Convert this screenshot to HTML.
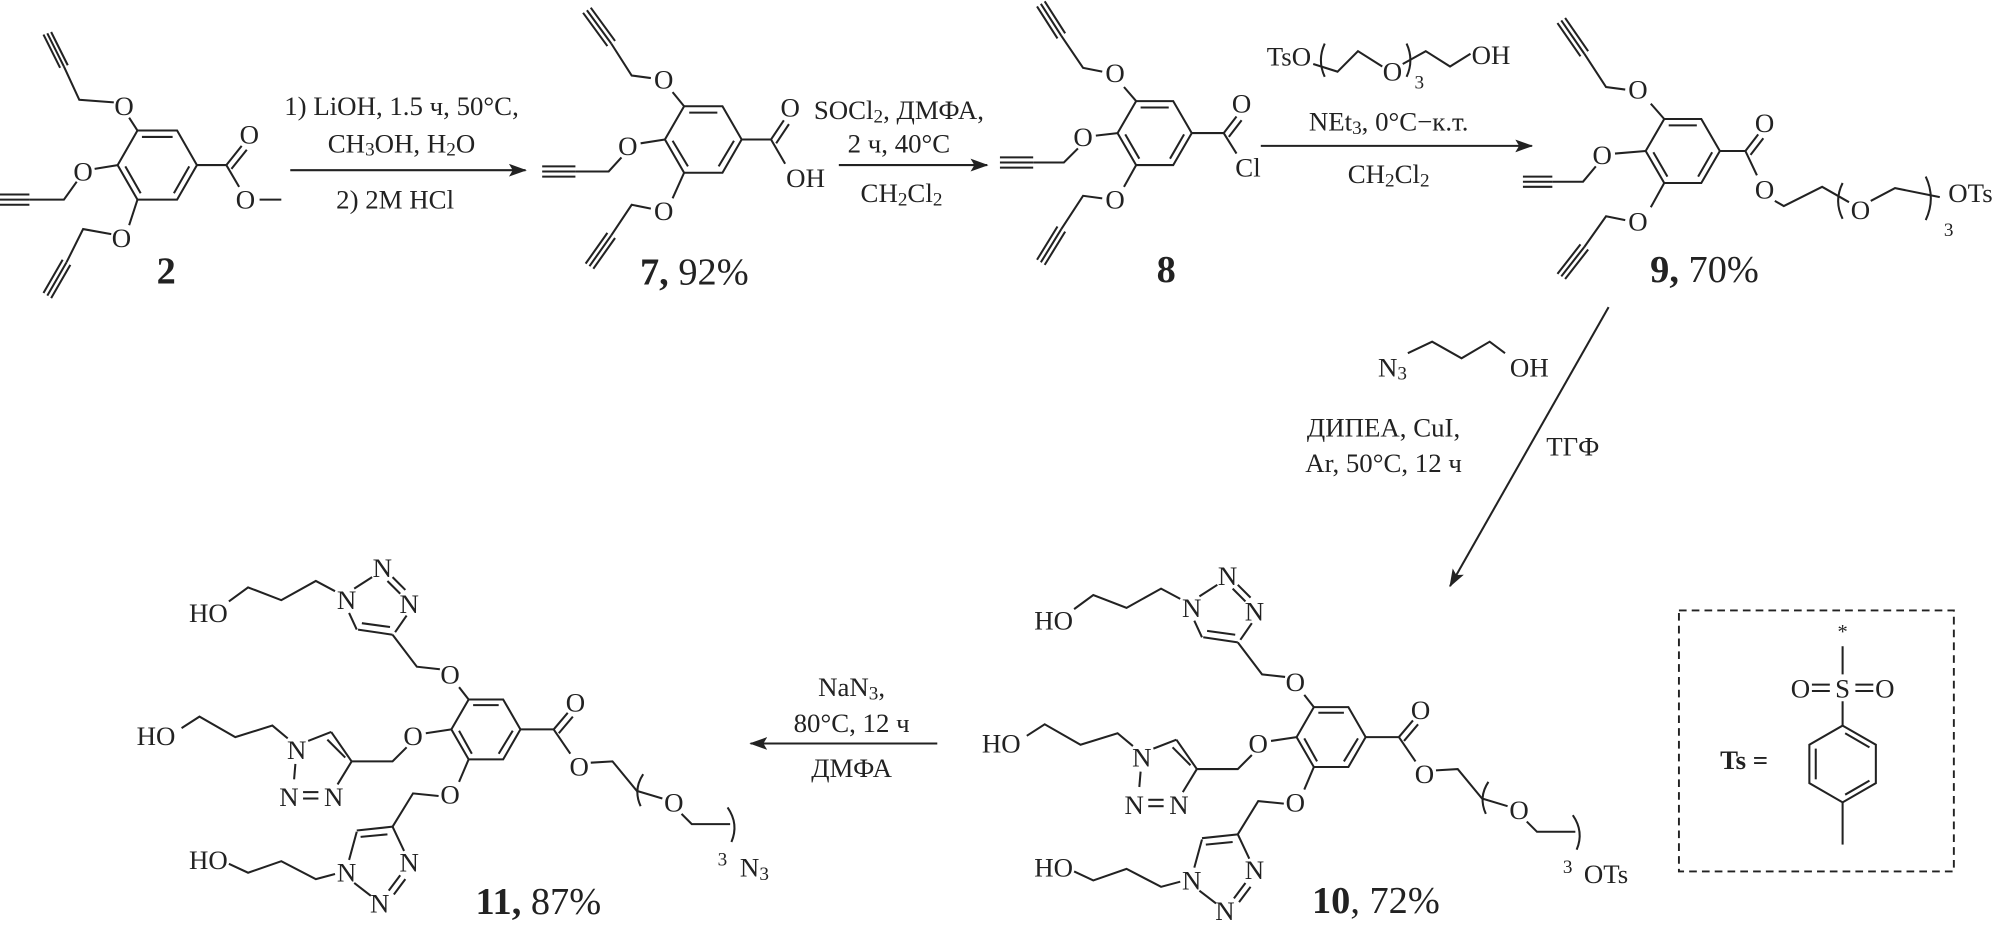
<!DOCTYPE html>
<html><head><meta charset="utf-8"><style>
html,body{margin:0;padding:0;background:#fff}
svg{display:block}
text{font-family:"Liberation Serif",serif;font-size:21px;fill:#222;text-anchor:middle;dominant-baseline:central}
.b{font-weight:bold}
line,path,polyline{stroke:#222;stroke-width:1.6;fill:none}
</style></head><body>
<svg width="2005" height="938" viewBox="0 0 1568 733" preserveAspectRatio="none">
<defs><marker id="ah" markerWidth="14" markerHeight="10" refX="13" refY="5" orient="auto" markerUnits="userSpaceOnUse"><path d="M0,0 L14,5 L0,10 L3,5 Z" style="fill:#222;stroke:none"/></marker></defs>

<!-- Compound 2 -->
<polygon points="154,129 138.5,102 107.5,102 92,129 107.5,156 138.5,156" style="fill:none;stroke:#222;stroke-width:1.6"/>
<line x1="111" y1="107" x2="135" y2="107"/><line x1="98" y1="130" x2="110" y2="151"/><line x1="136" y1="151" x2="148" y2="130"/>
<text x="97" y="83">O</text><line x1="107.5" y1="102" x2="101" y2="92"/>
<polyline points="89,80 62,78 50,52"/>
<line x1="50" y1="52" x2="37" y2="26"/><line x1="53" y1="51" x2="40" y2="25"/><line x1="47" y1="53" x2="34" y2="27"/>
<text x="65" y="134">O</text><line x1="92" y1="129" x2="74" y2="132"/>
<polyline points="60,142 50,156 23,156"/>
<line x1="0" y1="156" x2="23" y2="156"/><line x1="0" y1="152" x2="23" y2="152"/><line x1="0" y1="160" x2="23" y2="160"/>
<text x="95" y="186">O</text><line x1="107.5" y1="156" x2="101" y2="176"/>
<polyline points="87,183 65,179 52,205"/>
<line x1="52" y1="205" x2="37" y2="231"/><line x1="55" y1="207" x2="40" y2="233"/><line x1="49" y1="203" x2="34" y2="229"/>
<line x1="154" y1="129" x2="177" y2="129"/><line x1="177" y1="129" x2="189" y2="114"/><line x1="181" y1="132" x2="193" y2="117"/>
<text x="195" y="105">O</text><line x1="177" y1="129" x2="187" y2="146"/><text x="192" y="156">O</text><line x1="203" y1="156" x2="220" y2="156"/>
<text x="130" y="212" class="b" style="font-size:30px">2</text>

<!-- Arrow 1 -->
<text x="314" y="83">1) LiOH, 1.5 ч, 50°C,</text>
<text x="314" y="112">CH<tspan dy="5" font-size="15">3</tspan><tspan dy="-5">OH, H</tspan><tspan dy="5" font-size="15">2</tspan><tspan dy="-5">O</tspan></text>
<line x1="227" y1="133" x2="411" y2="133" marker-end="url(#ah)"/>
<text x="309" y="156">2) 2M HCl</text>

<!-- Compound 7 -->
<polygon points="580,109 565,83 535,83 520,109 535,135 565,135" style="fill:none;stroke:#222;stroke-width:1.6"/>
<line x1="539" y1="88" x2="561" y2="88"/><line x1="526" y1="110" x2="538" y2="130"/><line x1="562" y1="130" x2="574" y2="110"/>
<text x="519" y="62">O</text><line x1="535" y1="83" x2="526" y2="72"/>
<polyline points="509,61 494,59 478,34"/>
<line x1="478" y1="34" x2="459" y2="8"/><line x1="481" y1="32" x2="462" y2="6"/><line x1="475" y1="36" x2="456" y2="10"/>
<text x="491" y="114">O</text><line x1="520" y1="109" x2="501" y2="112"/>
<polyline points="486,123 476,134 450,134"/>
<line x1="450" y1="134" x2="424" y2="134"/><line x1="450" y1="130" x2="424" y2="130"/><line x1="450" y1="138" x2="424" y2="138"/>
<text x="519" y="165">O</text><line x1="535" y1="135" x2="526" y2="155"/>
<polyline points="509,163 494,160 478,184"/>
<line x1="478" y1="184" x2="461" y2="208"/><line x1="481" y1="186" x2="464" y2="210"/><line x1="475" y1="182" x2="458" y2="206"/>
<line x1="580" y1="109" x2="603" y2="109"/><line x1="603" y1="109" x2="613" y2="94"/><line x1="607" y1="112" x2="617" y2="97"/>
<text x="618" y="84">O</text><line x1="603" y1="109" x2="614" y2="128"/><text x="630" y="139">OH</text>
<text x="543" y="213" style="font-size:30px"><tspan class="b">7,</tspan> 92%</text>

<!-- Arrow 2 -->
<text x="703" y="86">SOCl<tspan dy="5" font-size="15">2</tspan><tspan dy="-5">, ДМФА,</tspan></text>
<text x="703" y="112">2 ч, 40°C</text>
<line x1="656" y1="129" x2="772" y2="129" marker-end="url(#ah)"/>
<text x="705" y="151">CH<tspan dy="5" font-size="15">2</tspan><tspan dy="-5">Cl</tspan><tspan dy="5" font-size="15">2</tspan></text>

<!-- Compound 8 -->
<polygon points="932,104 917.5,79 888.5,79 874,104 888.5,129 917.5,129" style="fill:none;stroke:#222;stroke-width:1.6"/>
<line x1="892" y1="84" x2="914" y2="84"/><line x1="880" y1="105" x2="891" y2="124"/><line x1="915" y1="124" x2="926" y2="105"/>
<text x="872" y="57">O</text><line x1="888.5" y1="79" x2="879" y2="68"/>
<polyline points="862,56 847,53 830,28"/>
<line x1="830" y1="28" x2="814" y2="3"/><line x1="833" y1="26" x2="817" y2="1"/><line x1="827" y1="30" x2="811" y2="5"/>
<text x="847" y="107">O</text><line x1="874" y1="104" x2="857" y2="106"/>
<polyline points="843,116 832,127 808,127"/>
<line x1="808" y1="127" x2="782" y2="127"/><line x1="808" y1="123" x2="782" y2="123"/><line x1="808" y1="131" x2="782" y2="131"/>
<text x="872" y="156">O</text><line x1="888.5" y1="129" x2="879" y2="146"/>
<polyline points="862,155 847,153 830,179"/>
<line x1="830" y1="179" x2="814" y2="205"/><line x1="833" y1="181" x2="817" y2="207"/><line x1="827" y1="177" x2="811" y2="203"/>
<line x1="932" y1="104" x2="957" y2="104"/><line x1="957" y1="104" x2="967" y2="91"/><line x1="961" y1="107" x2="971" y2="94"/>
<text x="971" y="81">O</text><line x1="957" y1="104" x2="967" y2="120"/><text x="976" y="131">Cl</text>
<text x="912" y="211" class="b" style="font-size:30px">8</text>

<!-- Arrow 3 -->
<text x="1008" y="44">TsO</text>
<path d="M1036,34 Q1030,47 1036,60"/>
<polyline points="1027,50 1046,56 1062,40 1081,52"/>
<text x="1089" y="56">O</text>
<path d="M1100,34 Q1106,47 1100,60"/>
<text x="1110" y="65" style="font-size:15px">3</text>
<polyline points="1097,50 1115,40 1134,52 1150,42"/>
<text x="1166" y="43">OH</text>
<text x="1086" y="95">NEt<tspan dy="5" font-size="15">3</tspan><tspan dy="-5">, 0°C−к.т.</tspan></text>
<line x1="986" y1="114" x2="1198" y2="114" marker-end="url(#ah)"/>
<text x="1086" y="136">CH<tspan dy="5" font-size="15">2</tspan><tspan dy="-5">Cl</tspan><tspan dy="5" font-size="15">2</tspan></text>

<!-- Compound 9 -->
<polygon points="1345,118 1330.5,93 1301.5,93 1287,118 1301.5,143 1330.5,143" style="fill:none;stroke:#222;stroke-width:1.6"/>
<line x1="1305" y1="98" x2="1327" y2="98"/><line x1="1293" y1="119" x2="1304" y2="138"/><line x1="1328" y1="138" x2="1339" y2="119"/>
<text x="1281" y="70">O</text><line x1="1301.5" y1="93" x2="1291" y2="81"/>
<polyline points="1271,70 1256,68 1239,42"/>
<line x1="1239" y1="42" x2="1221" y2="16"/><line x1="1242" y1="40" x2="1224" y2="14"/><line x1="1236" y1="44" x2="1218" y2="18"/>
<text x="1253" y="121">O</text><line x1="1287" y1="118" x2="1263" y2="120"/>
<polyline points="1248,130 1238,142 1214,142"/>
<line x1="1214" y1="142" x2="1191" y2="142"/><line x1="1214" y1="138" x2="1191" y2="138"/><line x1="1214" y1="146" x2="1191" y2="146"/>
<text x="1281" y="173">O</text><line x1="1301.5" y1="143" x2="1291" y2="162"/>
<polyline points="1271,172 1256,169 1239,193"/>
<line x1="1239" y1="193" x2="1221" y2="216"/><line x1="1242" y1="195" x2="1224" y2="218"/><line x1="1236" y1="191" x2="1218" y2="214"/>
<line x1="1345" y1="118" x2="1365" y2="118"/><line x1="1365" y1="118" x2="1375" y2="105"/><line x1="1369" y1="121" x2="1379" y2="108"/>
<text x="1380" y="96">O</text><line x1="1365" y1="118" x2="1374" y2="137"/><text x="1380" y="148">O</text>
<polyline points="1388,157 1395,161 1425,146 1446,158"/>
<path d="M1441,143 Q1434,157 1441,171"/>
<text x="1455" y="164">O</text>
<polyline points="1463,157 1482,147 1517,154"/>
<path d="M1506,138 Q1514,155 1506,172"/>
<text x="1541" y="151">OTs</text>
<text x="1524" y="180" style="font-size:15px">3</text>
<text x="1333" y="211" style="font-size:30px"><tspan class="b">9,</tspan> 70%</text>

<!-- Diagonal arrow -->
<line x1="1258" y1="240" x2="1134" y2="458" marker-end="url(#ah)"/>
<text x="1089" y="287">N<tspan dy="5" font-size="15">3</tspan></text>
<polyline points="1101,276 1120,267 1143,280 1165,267 1177,276"/>
<text x="1196" y="287">OH</text>
<text x="1082" y="334">ДИПЕА, CuI,</text>
<text x="1082" y="362">Ar, 50°C, 12 ч</text>
<text x="1230" y="349">ТГФ</text>

<!-- Compound 11 and 10 -->
<g id="core">
<polygon points="407,570 393.5,546.6 366.5,546.6 353,570 366.5,593.4 393.5,593.4" style="fill:none;stroke:#222;stroke-width:1.6"/>
<line x1="370" y1="551" x2="390" y2="551"/><line x1="359" y1="571" x2="369" y2="589"/><line x1="390" y1="589" x2="401" y2="571"/>
<!-- top -->
<text x="352" y="527">O</text><line x1="366.5" y1="546.6" x2="359" y2="537"/>
<polyline points="344,523 326,521 307,496"/>
<line x1="307" y1="496" x2="280" y2="492"/><line x1="305" y1="490" x2="283" y2="487"/>
<line x1="279" y1="492" x2="273" y2="479"/>
<line x1="277" y1="460" x2="291" y2="451"/>
<line x1="303" y1="454" x2="313" y2="464"/><line x1="307" y1="451" x2="317" y2="461"/>
<line x1="318" y1="481" x2="309" y2="494"/>
<text x="271" y="469">N</text><text x="299" y="444">N</text><text x="320" y="472">N</text>
<polyline points="262,462 247,454 220,469 194,459 179,470"/>
<text x="163" y="479">HO</text>
<!-- middle -->
<text x="323" y="575">O</text><line x1="353" y1="570" x2="333" y2="573"/>
<polyline points="318,584 307,595 275,595"/>
<line x1="275" y1="595" x2="259" y2="572"/><line x1="270" y1="592" x2="256" y2="578"/>
<line x1="259" y1="572" x2="241" y2="579"/>
<line x1="275" y1="595" x2="264" y2="613"/>
<line x1="231" y1="597" x2="230" y2="609"/>
<line x1="237" y1="619" x2="249" y2="619"/><line x1="237" y1="624" x2="249" y2="624"/>
<text x="232" y="586">N</text><text x="226" y="623">N</text><text x="261" y="623">N</text>
<polyline points="225,577 213,567 184,576 156,560 142,569"/>
<text x="122" y="575">HO</text>
<!-- bottom -->
<text x="352" y="621">O</text><line x1="366.5" y1="593.4" x2="359" y2="611"/>
<polyline points="343,622 323,620 307,646"/>
<line x1="307" y1="646" x2="279" y2="649"/><line x1="303" y1="652" x2="282" y2="654"/>
<line x1="279" y1="650" x2="273" y2="672"/>
<line x1="307" y1="646" x2="316" y2="665"/>
<line x1="277" y1="690" x2="290" y2="700"/>
<line x1="313" y1="684" x2="304" y2="696"/><line x1="317" y1="687" x2="308" y2="699"/>
<text x="271" y="682">N</text><text x="320" y="674">N</text><text x="297" y="706">N</text>
<polyline points="262,683 247,687 220,673 194,682 179,675"/>
<text x="163" y="672">HO</text>
<!-- ester -->
<line x1="407" y1="570" x2="433" y2="570"/><line x1="433" y1="570" x2="444" y2="557"/><line x1="437" y1="573" x2="448" y2="560"/>
<text x="450" y="549">O</text><line x1="433" y1="570" x2="446" y2="589"/><text x="453" y="599">O</text>
<polyline points="462,596 479,595 498,618 518,624"/>
<path d="M503,605 Q495,617 501,630"/>
<text x="527" y="627">O</text>
<polyline points="533,636 541,644 571,644"/>
<path d="M569,631 Q578,644 572,658"/>
</g>
<text x="565" y="672" style="font-size:15px">3</text>
<text x="590" y="678">N<tspan dy="5" font-size="15">3</tspan></text>
<text x="421" y="705" style="font-size:30px"><tspan class="b">11,</tspan> 87%</text>

<use href="#core" transform="translate(661,6)"/>
<text x="1226" y="678" style="font-size:15px">3</text>
<text x="1256" y="683">OTs</text>
<text x="1076" y="704" style="font-size:30px"><tspan class="b">10</tspan>, 72%</text>

<!-- Arrow 4 -->
<text x="666" y="537">NaN<tspan dy="5" font-size="15">3</tspan><tspan dy="-5">,</tspan></text>
<text x="666" y="565">80°C, 12 ч</text>
<line x1="733" y1="581" x2="587" y2="581" marker-end="url(#ah)"/>
<text x="666" y="600">ДМФА</text>

<!-- Ts box -->
<rect x="1313" y="477" width="215" height="204" style="fill:none;stroke:#222;stroke-width:1.5;stroke-dasharray:6,4"/>
<text x="1364" y="594" class="b">Ts =</text>
<polygon points="1441,567 1467,582 1467,612 1441,627 1415,612 1415,582" style="fill:none;stroke:#222;stroke-width:1.6"/>
<line x1="1420" y1="585" x2="1420" y2="609"/><line x1="1443" y1="573" x2="1462" y2="584"/><line x1="1462" y1="610" x2="1443" y2="621"/>
<line x1="1441" y1="548" x2="1441" y2="567"/>
<line x1="1441" y1="505" x2="1441" y2="527"/>
<text x="1441" y="494" style="font-size:16px">*</text>
<text x="1441" y="538">S</text><text x="1408" y="538">O</text><text x="1474" y="538">O</text>
<line x1="1417" y1="535" x2="1431" y2="535"/><line x1="1417" y1="540" x2="1431" y2="540"/>
<line x1="1451" y1="535" x2="1465" y2="535"/><line x1="1451" y1="540" x2="1465" y2="540"/>
<line x1="1441" y1="627" x2="1441" y2="660"/>
</svg>
</body></html>
